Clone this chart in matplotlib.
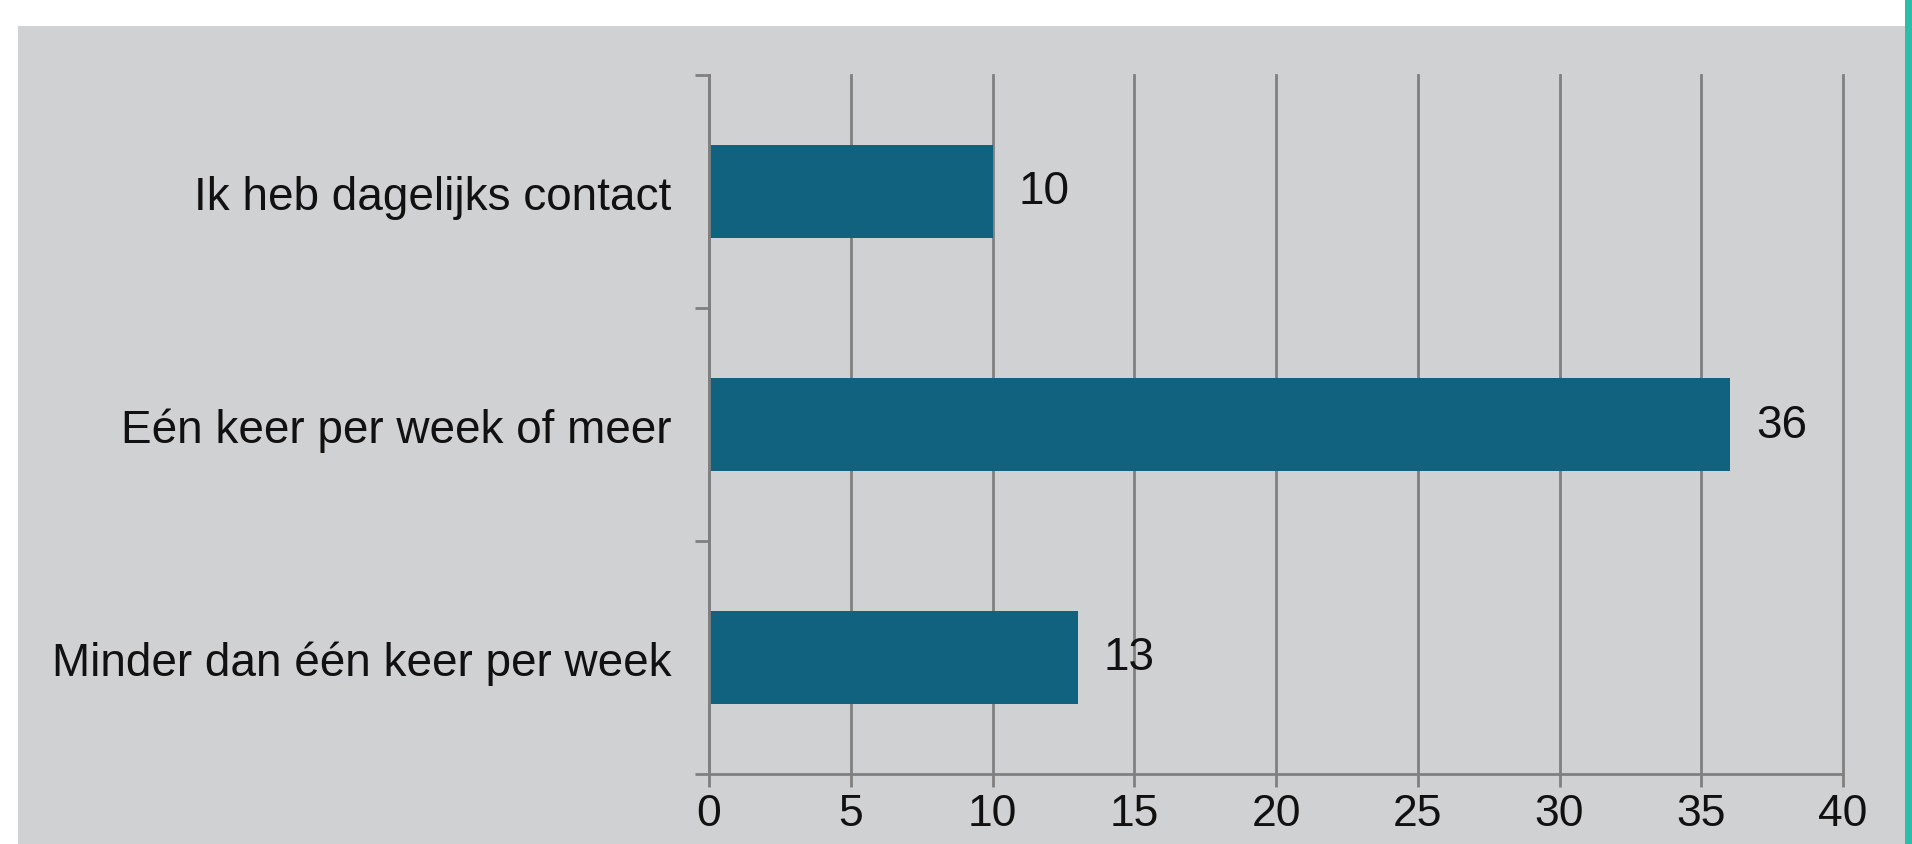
import matplotlib
matplotlib.use("Agg")
import matplotlib.pyplot as plt
from matplotlib.patches import Rectangle

# antwoorden (boven naar onder) en aantallen
categories = ["Ik heb dagelijks contact",
              "Eén keer per week of meer",
              "Minder dan één keer per week"]
counts = [10, 36, 13]
x_ticks = [0, 5, 10, 15, 20, 25, 30, 35, 40]

BG = "#d0d1d3"
BAR = "#11627e"
GRID = "#808080"
TEAL = "#2bbfaa"
FS = 33

plt.rcParams["font.family"] = ["Liberation Sans", "DejaVu Sans"]

W, H = 1912, 845
fig = plt.figure(figsize=(W / 100, H / 100), dpi=100)
fig.patch.set_facecolor("white")

# grijs paneel en groene rand rechts
fig.add_artist(Rectangle((18 / W, 0), (1905 - 18) / W, (H - 27) / H,
                         transform=fig.transFigure, facecolor=BG,
                         edgecolor="none", zorder=0))
fig.add_artist(Rectangle((1905 / W, 0), 7 / W, 1,
                         transform=fig.transFigure, facecolor=TEAL,
                         edgecolor="none", zorder=0))

left, right = 709 / W, 1843 / W
bottom, top = (H - 775) / H, (H - 76) / H
ax = fig.add_axes([left, bottom, right - left, top - bottom])
ax.set_facecolor("none")

y = list(range(len(categories)))[::-1]
ax.barh(y, counts, height=0.4, color=BAR, zorder=3)

for yi, v in zip(y, counts):
    ax.annotate(str(v), (v, yi), xytext=(19, 0), textcoords="offset points",
                va="center", ha="left", fontsize=FS, color="#111111", zorder=4)

ax.set_xlim(0, 40)
ax.set_ylim(-0.5, len(categories) - 0.5)
ax.set_xticks(x_ticks)
ax.set_xticklabels([str(t) for t in x_ticks])
ax.set_yticks(y)
ax.set_yticklabels(categories)
ax.set_yticks([-0.5, 0.5, 1.5, 2.5], minor=True)

ax.grid(axis="x", color=GRID, linewidth=2, zorder=1)
ax.set_axisbelow(True)
# laatste rasterlijn (40) niet half wegknippen
for gl in ax.get_xgridlines():
    gl.set_clip_on(False)

for s in ["top", "right"]:
    ax.spines[s].set_visible(False)
for s in ["left", "bottom"]:
    ax.spines[s].set_color(GRID)
    ax.spines[s].set_linewidth(2)
    ax.spines[s].set_zorder(5)

ax.tick_params(axis="x", length=9, width=2, color=GRID, pad=5,
               labelsize=32, labelcolor="#111111")
ax.tick_params(axis="y", which="major", length=0, pad=27,
               labelsize=FS, labelcolor="#111111")
ax.tick_params(axis="y", which="minor", length=10, width=2, color=GRID)

fig.savefig("out.png", dpi=100)
